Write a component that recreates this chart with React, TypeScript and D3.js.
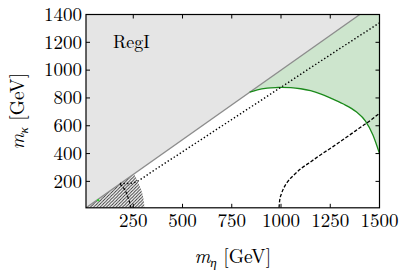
import React from 'react';
import * as d3 from 'd3';

// axis ticks
const xTicks = [250, 500, 750, 1000, 1250, 1500];
const yTicks = [200, 400, 600, 800, 1000, 1200, 1400];

// diagonal m_kappa = m_eta
const diagX = [10, 1400];
const diagY = [10, 1400];

// green boundary (lower edge of green region)
const greenX = [841, 880, 930, 985, 1000, 1050, 1100, 1150, 1200, 1250, 1314, 1382, 1428, 1466, 1500];
const greenY = [841, 858, 870, 875, 876, 874, 866, 852, 830, 800, 758, 700, 635, 535, 400];

// dotted line
const dotX = [182, 215, 245, 270, 300, 334, 500, 750, 1000, 1250, 1500];
const dotY = [185, 184, 188, 200, 226, 259, 413, 645, 877, 1110, 1340];

// big dashed curve
const dashX = [990, 993, 1002, 1015, 1035, 1065, 1100, 1150, 1200, 1264, 1330, 1400, 1460, 1500];
const dashY = [10, 60, 110, 155, 200, 245, 290, 340, 390, 450, 515, 585, 645, 690];

// small dashed curve inside hatched area
const smallDashX = [182, 200, 216, 228, 235, 238];
const smallDashY = [180, 155, 113, 65, 30, 10];

// hatched region outer arc
const hatchX = [252, 265, 275, 290, 300, 305, 307];
const hatchY = [252, 225, 190, 140, 88, 40, 10];

// single point
const pointX = [72];
const pointY = [65];

const W = 407;
const H = 275;
const m = { left: 86, right: 379.5, top: 14.5, bottom: 207.8 };

const serif = { fontFamily: "'Latin Modern Roman'" };

const App = () => {
  const x = d3.scaleLinear().domain([10, 1500]).range([m.left, m.right]);
  const y = d3.scaleLinear().domain([10, 1400]).range([m.bottom, m.top]);

  const zip = (xs: number[], ys: number[]) => xs.map((v, i) => [v, ys[i]] as [number, number]);
  const line = d3.line<[number, number]>().x(d => x(d[0])).y(d => y(d[1]));
  const smooth = d3.line<[number, number]>().x(d => x(d[0])).y(d => y(d[1])).curve(d3.curveMonotoneX);

  const diag = zip(diagX, diagY);
  const grayPoly = [diag[0], diag[1], [10, 1400] as [number, number]];
  const green = zip(greenX, greenY);
  const greenTail = line([green[green.length - 1], [1500, 1400], [1400, 1400]])!.replace(/^M/, 'L');
  const hatch = zip(hatchX, hatchY);
  const hatchPath =
    line([[10, 10], hatch[0]])! +
    smooth(hatch)!.replace(/^M/, 'L') +
    'L' + x(10) + ',' + y(10) + 'Z';

  return (
    <svg width={W} height={H} style={{ position: 'absolute', left: 0, top: 0, background: 'white' }}>
      <defs>
        <clipPath id="plot">
          <rect x={m.left} y={m.top} width={m.right - m.left} height={m.bottom - m.top} />
        </clipPath>
        <pattern id="hatch" patternUnits="userSpaceOnUse" width={3.2} height={3.2}>
          <rect width={3.2} height={3.2} fill="white" />
          <path d="M-0.8,0.8 l1.6,-1.6 M0,3.2 l3.2,-3.2 M2.4,4 l1.6,-1.6" stroke="#2a2a2a" strokeWidth={0.95} />
        </pattern>
      </defs>

      <g clipPath="url(#plot)">
        <path d={line(grayPoly)! + 'Z'} fill="#e5e5e5" />
        <path d={smooth(green)! + greenTail + 'Z'} fill="#cde5cd" />
        <path d={hatchPath} fill="url(#hatch)" />
        <path d={line(diag)!} fill="none" stroke="#8c8c8c" strokeWidth={1.3} />
        <path d={smooth(green)!} fill="none" stroke="#1a8a1a" strokeWidth={1.3} />
        <path d={smooth(zip(dotX, dotY))!} fill="none" stroke="black" strokeWidth={1.4} strokeDasharray="1.4,2.2" />
        <path d={smooth(zip(dashX, dashY))!} fill="none" stroke="black" strokeWidth={1.3} strokeDasharray="3.5,1.8" />
        <path d={smooth(zip(smallDashX, smallDashY))!} fill="none" stroke="black" strokeWidth={1.2} strokeDasharray="3,1.8" />
        {pointX.map((v, i) => (
          <circle key={i} cx={x(v)} cy={y(pointY[i])} r={1.2} fill="#3c3" />
        ))}
        <text x={x(147)} y={y(1200) + 6} style={serif} fontSize={18}>RegI</text>
      </g>

      {/* ticks, inward on all sides */}
      {xTicks.map(t => (
        <g key={'x' + t}>
          <line x1={x(t)} x2={x(t)} y1={m.bottom} y2={m.bottom - 4} stroke="black" />
          <line x1={x(t)} x2={x(t)} y1={m.top} y2={m.top + 4} stroke="black" />
          <text x={x(t)} y={m.bottom + 19.5} textAnchor="middle" style={serif} fontSize={19}>{t}</text>
        </g>
      ))}
      {yTicks.map(t => (
        <g key={'y' + t}>
          <line x1={m.left} x2={m.left + 4} y1={y(t)} y2={y(t)} stroke="black" />
          <line x1={m.right} x2={m.right - 4} y1={y(t)} y2={y(t)} stroke="black" />
          <text x={m.left - 4} y={y(t) + 6.3} textAnchor="end" style={serif} fontSize={19}>{t}</text>
        </g>
      ))}

      <rect x={m.left} y={m.top} width={m.right - m.left} height={m.bottom - m.top} fill="none" stroke="black" strokeWidth={1.2} />

      <text x={(m.left + m.right) / 2} y={263} textAnchor="middle" style={serif} fontSize={19.5}>
        <tspan fontStyle="italic">m</tspan>
        <tspan fontStyle="italic" fontSize={13} dy={4}>η</tspan>
        <tspan dy={-4}> [GeV]</tspan>
      </text>
      <text transform={`translate(24,${(m.top + m.bottom) / 2}) rotate(-90)`} textAnchor="middle" style={serif} fontSize={19.5}>
        <tspan fontStyle="italic">m</tspan>
        <tspan fontStyle="italic" fontSize={13} dy={4}>κ</tspan>
        <tspan dy={-4}> [GeV]</tspan>
      </text>
    </svg>
  );
};

export default App;
